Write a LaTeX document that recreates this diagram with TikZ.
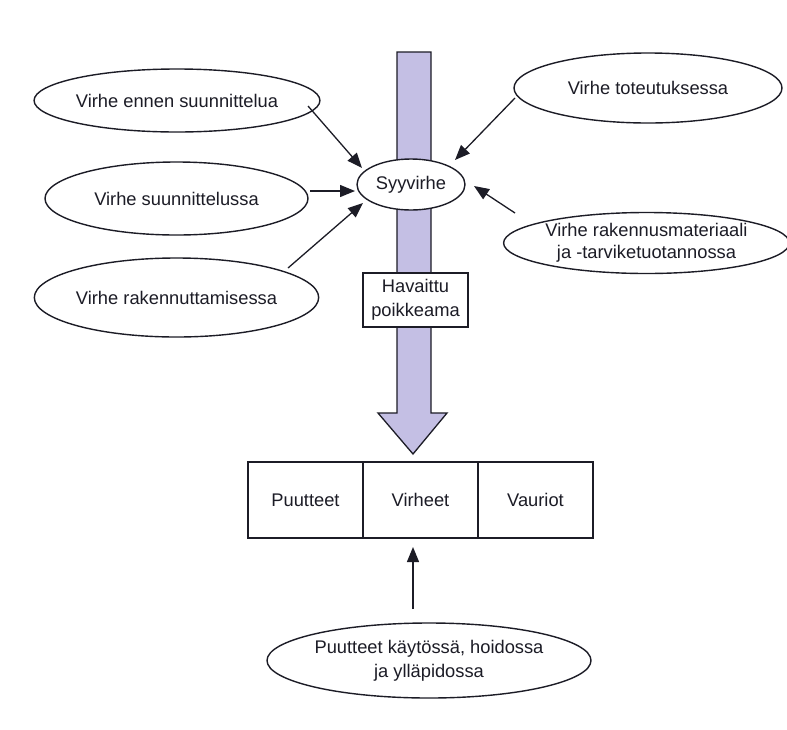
\documentclass[tikz,border=0pt]{standalone}
\usepackage{fontspec}
\setmainfont{Liberation Sans}
\usetikzlibrary{shapes.geometric,arrows.meta}
\definecolor{lav}{RGB}{196,191,228}
\definecolor{ink}{RGB}{28,28,38}
\begin{document}
\begin{tikzpicture}[x=1pt,y=-1pt,
  every node/.style={font=\fontsize{18.3}{24}\selectfont, text=ink, align=center},
  oval/.style={ellipse, draw=ink, line width=1.4pt, fill=white, inner sep=0pt},
  cell/.style={rectangle, draw=ink, line width=1.4pt, fill=white, minimum width=115pt, minimum height=76pt, inner sep=0pt},
  arr/.style={draw=ink, line width=1.3pt, -{Triangle[length=15pt,width=12pt]}}
]
\useasboundingbox (0,0) rectangle (787,729);
\fill[white] (0,0) rectangle (787,729);

% big arrow
\draw[fill=lav, draw=ink, line width=1.3pt, line join=miter]
  (397,52) -- (431,52) -- (431,413) -- (447,413) -- (413,454) -- (378,413) -- (397,413) -- cycle;

% nodes
\node[oval, minimum width=264pt, minimum height=63pt] (e1) at (177,100.5) {Virhe ennen suunnittelua};
\node[oval, minimum width=263pt, minimum height=73pt] (e2) at (176.5,198.5) {Virhe suunnittelussa};
\node[oval, minimum width=263pt, minimum height=79pt] (e3) at (176.5,297.5) {Virhe rakennuttamisessa};
\node[oval, minimum width=268pt, minimum height=70pt] (e4) at (648,88) {Virhe toteutuksessa};
\node[oval, minimum width=267pt, minimum height=61pt, font=\fontsize{18.3}{22}\selectfont] (e5) at (646.5,243) {Virhe rakennusmateriaali\\ja -tarviketuotannossa};
\node[oval, minimum width=108pt, minimum height=51pt] (syy) at (411,184.5) {Syyvirhe};
\node[rectangle, draw=ink, line width=1.4pt, fill=white, minimum width=105pt, minimum height=54pt, inner sep=0pt] (hav) at (415.5,300) {Havaittu\\poikkeama};

\node[cell] (puu) at (305.5,500) {Puutteet};
\node[cell] (vir) at (420.5,500) {Virheet};
\node[cell] (vau) at (535.5,500) {Vauriot};

\node[oval, minimum width=324pt, minimum height=75pt] (bot) at (429,660.5) {Puutteet käytössä, hoidossa\\ja ylläpidossa};

% connectors
\draw[arr] ([shift={(131,5.5)}]e1.center) -- ([shift={(-49,-16.5)}]syy.center);
\draw[arr] ([shift={(133.5,-7.5)}]e2.center) -- ([shift={(-56,6.5)}]syy.center);
\draw[arr] ([shift={(111.5,-29.5)}]e3.center) -- ([shift={(-48,18.5)}]syy.center);
\draw[arr] ([shift={(-133,10)}]e4.center) -- ([shift={(44,-24.5)}]syy.center);
\draw[arr] ([shift={(-131.5,-30)}]e5.center) -- ([shift={(63,1.5)}]syy.center);
\draw[arr] ([shift={(-16,-51.5)}]bot.center) -- ([shift={(-7.5,47)}]vir.center);
\end{tikzpicture}
\end{document}
